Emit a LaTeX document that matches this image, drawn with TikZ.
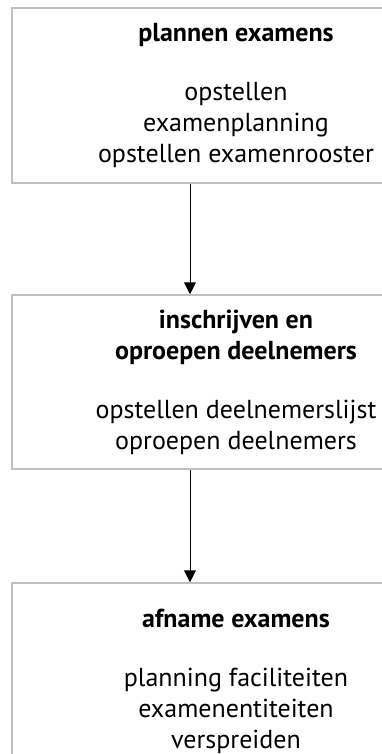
\documentclass[tikz,border=0pt]{standalone}
\usepackage{fontspec}
\setmainfont{PT Sans}
\usepackage{xcolor}
\usetikzlibrary{arrows.meta, shapes, calc}
\definecolor{boxgray}{RGB}{192,192,192}

\begin{document}
\begin{tikzpicture}[>={Triangle[length=12pt, width=12pt]}, x=1pt, y=-1pt, inner sep=0pt,
	stap/.style={rectangle, draw=boxgray, line width=1.5pt, minimum width=448pt, align=center, font=\fontsize{26}{31}\selectfont}]
			\useasboundingbox (0,0) rectangle (382,754);
			\clip (0,0) rectangle (382,754);
			\node[stap, minimum height=175pt](P) at (236,95.5) {\textbf{plannen examens}\\[28pt]opstellen\\examenplanning\\opstellen examenrooster};
			\node[stap, minimum height=174pt](I) at (236,382) {\textbf{inschrijven en}\\\textbf{oproepen deelnemers}\\[28pt]opstellen deelnemerslijst\\oproepen deelnemers};
			\node[stap, minimum height=196pt](A) at (236,681) {\textbf{afname examens}\\[28pt]planning faciliteiten\\examenentiteiten\\verspreiden};

			\draw[->, line width=1pt](P.south -| 190,0) -- (I.north -| 190,0);
			\draw[->, line width=1pt](I.south -| 190,0) -- (A.north -| 190,0);
		\end{tikzpicture}
\end{document}
